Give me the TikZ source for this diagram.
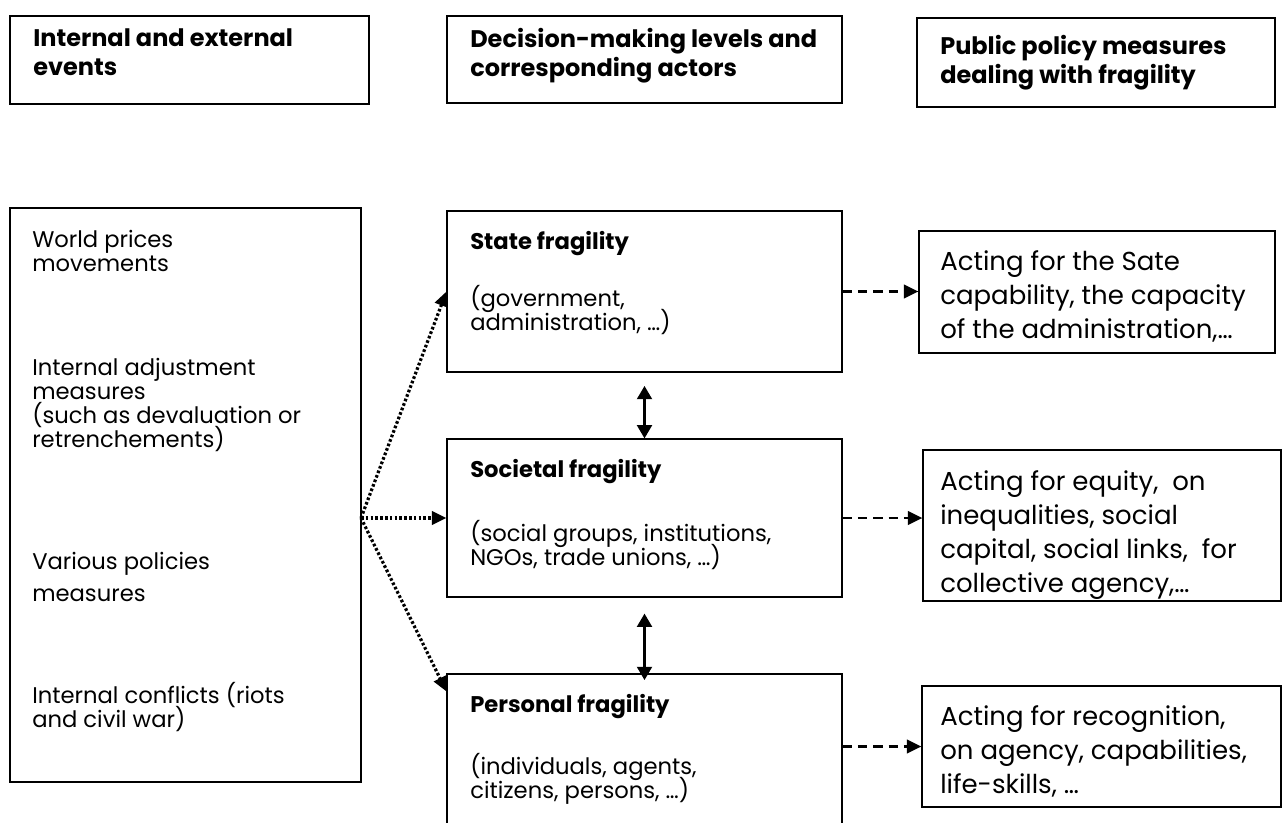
\documentclass[tikz,border=0pt]{standalone}
\usepackage{fontspec}
\setmainfont{Poppins}
\usetikzlibrary{arrows.meta,fit}

\newcommand{\bodyfont}{\fontsize{17}{18}\selectfont\lineskiplimit=-20pt}
\newcommand{\headfont}{\bfseries\fontsize{18}{21.75}\selectfont\lineskiplimit=-20pt}
\newcommand{\actfont}{\fontsize{19.5}{25.5}\selectfont\lineskiplimit=-20pt}

\tikzset{
  box/.style={draw, line width=0.8pt, inner sep=0pt},
  bodytxt/.style={font=\bodyfont, align=left, inner sep=0pt, anchor=north west},
  headtxt/.style={font=\headfont, align=left, inner sep=0pt, anchor=north west},
  acttxt/.style={font=\actfont, align=left, inner sep=0pt, anchor=north west},
  tip/.style={-{Triangle[length=11pt,width=10pt]}},
  twotip/.style={{Triangle[length=10pt,width=11pt]}-{Triangle[length=10pt,width=11pt]}, line width=2.2pt},
  shock/.style={tip, line width=2.4pt, dash pattern=on 2pt off 1.6pt},
  policy/.style={tip, line width=2.2pt, dash pattern=on 7pt off 4.5pt}
}

\begin{document}
\begin{tikzpicture}[x=0.75pt,y=-0.75pt]
\useasboundingbox (0,0) rectangle (1287,823);

% headers
\node[box, fit={(10,16) (369,104)}] (hEvents) {};
\node[box, fit={(447,16) (842,103)}] (hLevels) {};
\node[box, fit={(917,18) (1275,107)}] (hPolicy) {};
\node[headtxt] (hEventsTxt) at (33,28) {Internal and external\\events};
\node[headtxt] (hLevelsTxt) at (470,28) {Decision-making levels and\\corresponding actors};
\node[headtxt] (hPolicyTxt) at (940,35) {Public policy measures\\dealing with fragility};

% events
\node[box, fit={(10,208) (361,782)}] (events) {};
\node[bodytxt] (ePrices) at (32,230) {World prices\\movements};
\node[bodytxt] (eAdjust) at (32,358) {Internal adjustment\\measures\\(such as devaluation or\\retrenchements)};
\node[bodytxt] (ePolicies) at (32,552) {Various policies\\[6pt]measures};
\node[bodytxt] (eConflicts) at (32,682) {Internal conflicts (riots\\and civil war)};

% levels
\node[box, fit={(447,211) (842,372)}] (state) {};
\node[box, fit={(447,439) (842,597)}] (societal) {};
\node[box, fit={(447,674) (842,832)}] (personal) {};
\node[bodytxt] (stateTxt) at (470,231) {\textbf{State fragility}\\[24.75pt](government,\\administration, …)};
\node[bodytxt] (societalTxt) at (470,459) {\textbf{Societal fragility}\\[30pt](social groups, institutions,\\NGOs, trade unions, …)};
\node[bodytxt] (personalTxt) at (470,694) {\textbf{Personal fragility}\\[28.5pt](individuals, agents,\\citizens, persons, …)};

% policies
\node[box, fit={(919,231) (1275,353)}] (actState) {};
\node[box, fit={(923,450) (1281,601)}] (actSocietal) {};
\node[box, fit={(922,686) (1281,807)}] (actPersonal) {};
\node[acttxt] (actStateTxt) at (940,250) {Acting for the Sate\\capability, the capacity\\of the administration,…};
\node[acttxt] (actSocietalTxt) at (940,470) {Acting for equity, \ on\\inequalities, social\\capital, social links, \ for\\collective agency,…};
\node[acttxt] (actPersonalTxt) at (940,705) {Acting for recognition,\\on agency, capabilities,\\life-skills, …};

% connectors
\coordinate (shockSrc) at (361,518);
\draw[shock] (shockSrc) -- (state.west);
\draw[shock] (shockSrc) -- (societal.west);
\draw[shock] (shockSrc) -- ([yshift=-13.5pt]personal.north west);
\draw[twotip] ([yshift=-10pt]state.south) -- (societal.north);
\draw[twotip] ([yshift=-12pt]societal.south) -- ([yshift=-5pt]personal.north);
\draw[policy] (state.east) -- (state.east -| actState.west);
\draw[policy] (societal.east) -- (societal.east -| actSocietal.west);
\draw[policy] (actPersonal.west -| personal.east) -- (actPersonal.west);
\end{tikzpicture}
\end{document}
